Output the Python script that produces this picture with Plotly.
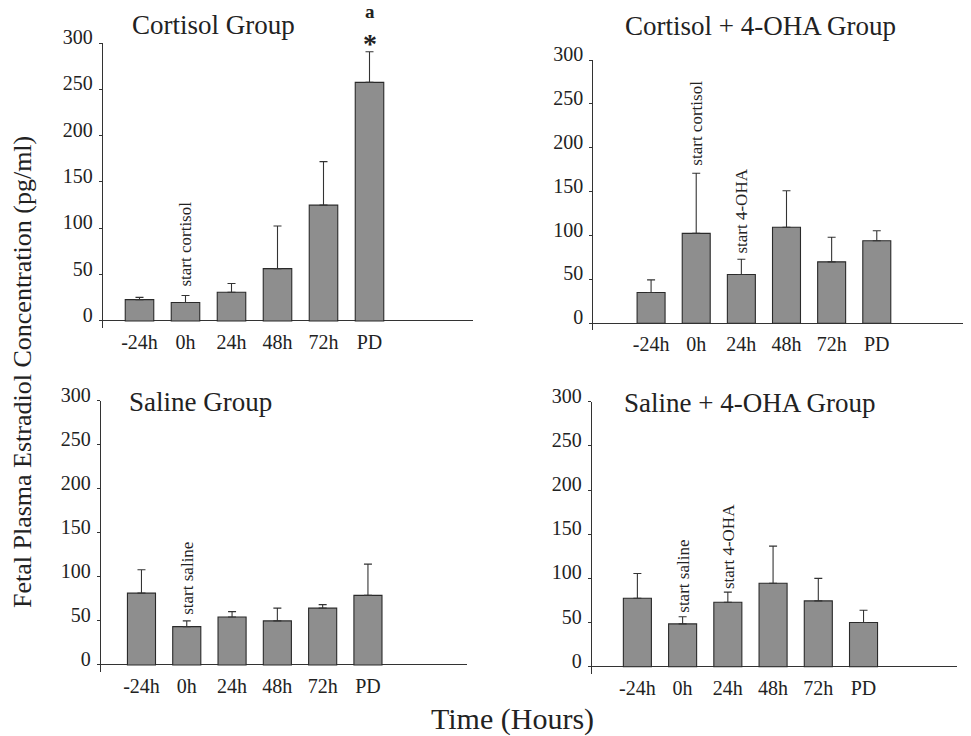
import plotly.graph_objects as go

categories = ["-24h", "0h", "24h", "48h", "72h", "PD"]

cortisol_mean = [23, 20, 31, 56.5, 125, 257.5]
cortisol_sem = [2.5, 7.5, 9.5, 46, 47, 33]

cortisol_oha_mean = [35, 102.5, 55.5, 109.5, 70, 94]
cortisol_oha_sem = [14.5, 68.5, 17.5, 41.5, 28, 11.5]

saline_mean = [81.5, 43.5, 54.5, 50, 64.5, 79]
saline_sem = [26.5, 6.5, 6, 14.5, 4, 35.5]

saline_oha_mean = [77.5, 48.5, 73, 94.5, 74.5, 50]
saline_oha_sem = [28, 8, 11.5, 42, 25.5, 14]

y_ticks = [0, 50, 100, 150, 200, 250, 300]

titles = ["Cortisol Group", "Cortisol + 4-OHA Group", "Saline Group", "Saline + 4-OHA Group"]

FONT = "Liberation Serif, Times New Roman, serif"
INK = "#222222"
W, H = 971, 736

panels = [
    dict(mean=cortisol_mean, sem=cortisol_sem, xd=(102.7, 473), xr=(-0.80, 7.25), yd=(328.4, 43)),
    dict(mean=cortisol_oha_mean, sem=cortisol_oha_sem, xd=(593.3, 963), xr=(-1.28, 6.91), yd=(330.3, 60)),
    dict(mean=saline_mean, sem=saline_sem, xd=(100.7, 466.7), xr=(-0.90, 7.18), yd=(672.0, 400.7)),
    dict(mean=saline_oha_mean, sem=saline_oha_sem, xd=(591.7, 956.7), xr=(-1.01, 7.06), yd=(673.8, 401.7)),
]

fig = go.Figure()
layout = {}
for i, p in enumerate(panels):
    n = "" if i == 0 else str(i + 1)
    fig.add_trace(go.Bar(
        x=categories, y=p["mean"], width=0.62,
        xaxis="x" + n, yaxis="y" + n,
        marker=dict(color="#8e8e8e", line=dict(color="#2a2a2a", width=1.1)),
        error_y=dict(type="data", symmetric=False, array=p["sem"],
                     arrayminus=[0] * len(p["sem"]), color="#333333",
                     thickness=1.1, width=4),
        showlegend=False,
    ))
    layout["xaxis" + n] = dict(
        domain=[p["xd"][0] / W, p["xd"][1] / W], anchor="y" + n,
        type="category", range=list(p["xr"]),
        showline=False, showgrid=False, zeroline=False, ticks="",
        tickfont=dict(family=FONT, size=20, color=INK),
    )
    layout["yaxis" + n] = dict(
        domain=[(H - p["yd"][0]) / H, (H - p["yd"][1]) / H], anchor="x" + n,
        range=[-8, 300], tickvals=y_ticks, showgrid=False,
        showline=True, linecolor="#333333", linewidth=1.1,
        zeroline=True, zerolinecolor="#333333", zerolinewidth=1.1,
        ticks="outside", ticklen=3, tickcolor="#333333", tickwidth=1,
        tickfont=dict(family=FONT, size=20, color=INK),
        ticklabelshift=-6, ticklabelstandoff=2,
    )

annotations = []
title_pos = [(130, 25), (623, 26), (126.7, 402), (621.7, 403.5)]
for t, (px, py) in zip(titles, title_pos):
    annotations.append(dict(text=t, x=px / W, y=(H - py) / H, xref="paper", yref="paper",
                            xanchor="left", yanchor="middle", showarrow=False,
                            font=dict(family=FONT, size=27, color=INK)))

def vlabel(text, axis_n, cat, ybottom):
    return dict(text=text, x=cat, y=ybottom, xref="x" + axis_n, yref="y" + axis_n,
                textangle=-90, xanchor="center", yanchor="bottom", showarrow=False,
                font=dict(family=FONT, size=17, color=INK))

annotations += [
    vlabel("start cortisol", "", "0h", 35),
    vlabel("start cortisol", "2", "0h", 177),
    vlabel("start 4-OHA", "2", "24h", 77),
    vlabel("start saline", "3", "0h", 55),
    vlabel("start saline", "4", "0h", 59),
    vlabel("start 4-OHA", "4", "24h", 86),
    dict(text="<b>a</b>", x="PD", y=(H - 12) / H, xref="x", yref="paper", showarrow=False,
         xanchor="center", yanchor="middle", font=dict(family=FONT, size=19, color=INK)),
    dict(text="<b>*</b>", x="PD", y=(H - 43) / H, xref="x", yref="paper", showarrow=False,
         xanchor="center", yanchor="middle", font=dict(family=FONT, size=28, color=INK)),
    dict(text="Fetal Plasma Estradiol Concentration (pg/ml)", x=22 / W, y=(H - 372) / H,
         xref="paper", yref="paper", textangle=-90, showarrow=False,
         xanchor="center", yanchor="middle", font=dict(family=FONT, size=26, color=INK)),
    dict(text="Time (Hours)", x=512 / W, y=(H - 719) / H, xref="paper", yref="paper",
         showarrow=False, xanchor="center", yanchor="middle",
         font=dict(family=FONT, size=30, color=INK)),
]

fig.update_layout(
    width=W, height=H, margin=dict(l=0, r=0, t=0, b=0, autoexpand=False),
    paper_bgcolor="white", plot_bgcolor="white",
    annotations=annotations, bargap=0.3,
    **layout,
)

fig.write_html(
    "out.html",
    config={"displayModeBar": False},
    post_script="document.body.style.margin='0';document.body.style.padding='0';",
)
